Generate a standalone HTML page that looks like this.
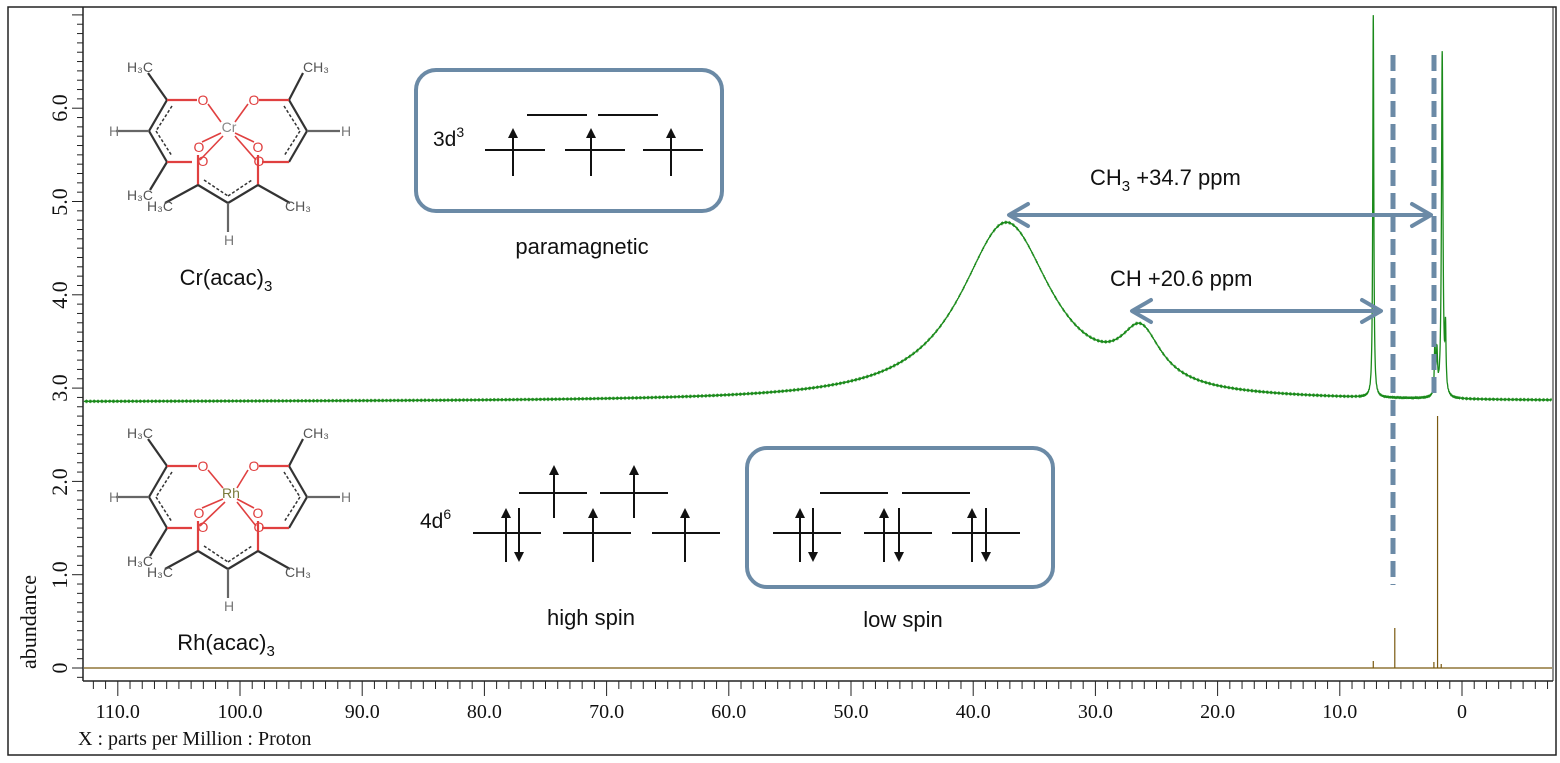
<!DOCTYPE html>
<html><head><meta charset="utf-8"><style>
html,body{margin:0;padding:0;background:#fff;}
svg{display:block;}
.s{font-family:"Liberation Sans",Arial,sans-serif;fill:#111;}
.t{font-family:"Liberation Serif","Times New Roman",serif;fill:#111;}
.mol{font-family:"Liberation Sans",Arial,sans-serif;font-size:14px;}
</style></head><body>
<svg id="c" width="1560" height="763" viewBox="0 0 1560 763" xmlns="http://www.w3.org/2000/svg">
<rect x="8" y="7" width="1548" height="748" fill="none" stroke="#222" stroke-width="1.5"/>
<line x1="83" y1="7" x2="83" y2="681" stroke="#222" stroke-width="1.5"/>
<line x1="83" y1="681" x2="1553" y2="681" stroke="#222" stroke-width="1.5"/>
<line x1="1553" y1="7" x2="1553" y2="681" stroke="#222" stroke-width="1"/>
<g id="ticks" stroke="#222" stroke-width="1"></g>
<g class="t" font-size="22">
<text transform="translate(67,668) rotate(-90)" text-anchor="middle">0</text>
<text transform="translate(67,575) rotate(-90)" text-anchor="middle">1.0</text>
<text transform="translate(67,482) rotate(-90)" text-anchor="middle">2.0</text>
<text transform="translate(67,388) rotate(-90)" text-anchor="middle">3.0</text>
<text transform="translate(67,295) rotate(-90)" text-anchor="middle">4.0</text>
<text transform="translate(67,202) rotate(-90)" text-anchor="middle">5.0</text>
<text transform="translate(67,108) rotate(-90)" text-anchor="middle">6.0</text>
<text transform="translate(36,622) rotate(-90)" text-anchor="middle" font-size="22">abundance</text>
</g>
<g class="t" font-size="20" text-anchor="middle" id="xl"></g>
<text class="t" x="78" y="745" font-size="20">X : parts per Million : Proton</text>

<path id="rh" fill="none" stroke="#7a5a10" stroke-width="1.2"/>
<path id="gr" fill="none" stroke="#1a8a1a" stroke-width="1.3"/>

<g stroke="#6b8aa6" stroke-width="5" stroke-dasharray="16,7">
<line x1="1393" y1="55" x2="1393" y2="585"/>
<line x1="1434" y1="55" x2="1434" y2="395"/>
</g>
<g stroke="#6b8aa6" stroke-width="4" fill="none" stroke-linecap="round" stroke-linejoin="round">
<line x1="1010" y1="215" x2="1430" y2="215"/>
<polyline points="1028,204 1009,215 1028,226"/>
<polyline points="1412,204 1431,215 1412,226"/>
<line x1="1133" y1="311" x2="1380" y2="311"/>
<polyline points="1151,300 1132,311 1151,322"/>
<polyline points="1362,300 1381,311 1362,322"/>
<rect x="416" y="70" width="306" height="141" rx="20"/>
<rect x="747" y="448" width="306" height="139" rx="20"/>
</g>
<text class="s" x="1090" y="185" font-size="22">CH<tspan font-size="15" dy="6">3</tspan><tspan dy="-6"> +34.7 ppm</tspan></text>
<text class="s" x="1110" y="286" font-size="22">CH  +20.6 ppm</text>
<text class="s" x="582" y="254" font-size="22" text-anchor="middle">paramagnetic</text>
<text class="s" x="591" y="625" font-size="22" text-anchor="middle">high spin</text>
<text class="s" x="903" y="627" font-size="22" text-anchor="middle">low spin</text>
<text class="s" x="433" y="146" font-size="21">3d<tspan font-size="14" dy="-9">3</tspan></text>
<text class="s" x="420" y="528" font-size="21">4d<tspan font-size="14" dy="-9">6</tspan></text>
<g id="lv" stroke="#111" stroke-width="2"></g>
<g id="mols"></g>
<text class="s" x="226" y="285" font-size="22" text-anchor="middle">Cr(acac)<tspan font-size="15" dy="6">3</tspan></text>
<text class="s" x="226" y="650" font-size="22" text-anchor="middle">Rh(acac)<tspan font-size="15" dy="6">3</tspan></text>
</svg>
<script>
var NS="http://www.w3.org/2000/svg";
function X(p){return 1462-12.22*p;}
function el(parent,tag,attrs,txt){var e=document.createElementNS(NS,tag);for(var k in attrs)e.setAttribute(k,attrs[k]);if(txt!==undefined)e.textContent=txt;parent.appendChild(e);return e;}
var tk=document.getElementById('ticks');
for(var p=-7;p<=112;p++){var x=X(p);if(x<84||x>1552)continue;var maj=(p%10===0);el(tk,'line',{x1:x,y1:681,x2:x,y2:maj?696:689});}
for(var i=-1;i<=70;i++){var v=i/10;var y=668-93.3*v;if(y<8||y>681)continue;var maj=(i%10===0);el(tk,'line',{x1:maj?72:77,y1:y,x2:83,y2:y});}
var xl=document.getElementById('xl');
for(var p=0;p<=110;p+=10){el(xl,'text',{x:X(p),y:718},p===0?'0':p.toFixed(1));}
function L(p,c,h,w){var d=(p-c)/w;return h/(1+d*d);}
var d='';
for(var x=84;x<=1552;x+=((x>1360&&x<1460)?0.1:0.5)){var p=(1462-x)/12.22;
var y=402-L(p,37.3,178,4.6)-L(p,26.3,52,2.0)-L(p,7.26,382,0.05)-L(p,1.62,344,0.07)-L(p,2.22,52,0.05)-L(p,2.05,40,0.06)-L(p,1.35,60,0.05)+Math.sin(x*7.1)*0.6;
d+=(d?'L':'M')+x.toFixed(2)+','+y.toFixed(1);}
document.getElementById('gr').setAttribute('d',d);
var r='M84,668L1552,668';
[[7.26,7],[5.5,40],[2.0,252],[2.3,6],[1.7,4]].forEach(function(a){var x=X(a[0]);r+='M'+x+',668L'+x+','+(668-a[1]);});
document.getElementById('rh').setAttribute('d',r);
var lv=document.getElementById('lv');
function ln(x1,x2,y){el(lv,'line',{x1:x1,y1:y,x2:x2,y2:y});}
function up(x,y1,y2){el(lv,'line',{x1:x,y1:y1,x2:x,y2:y2+8});el(lv,'polygon',{points:(x-5)+','+(y2+10)+' '+(x+5)+','+(y2+10)+' '+x+','+y2,fill:'#111',stroke:'none'});}
function dn(x,y1,y2){el(lv,'line',{x1:x,y1:y1,x2:x,y2:y2-8});el(lv,'polygon',{points:(x-5)+','+(y2-10)+' '+(x+5)+','+(y2-10)+' '+x+','+y2,fill:'#111',stroke:'none'});}
ln(485,545,150);ln(565,625,150);ln(643,703,150);ln(527,587,115);ln(598,658,115);
up(513,176,128);up(591,176,128);up(671,176,128);
ln(473,541,533);ln(563,631,533);ln(652,720,533);ln(519,587,493);ln(600,668,493);
up(506,562,508);dn(519,508,562);up(593,562,508);up(685,562,508);up(554,518,465);up(634,518,465);
ln(820,888,493);ln(902,970,493);ln(773,841,533);ln(864,932,533);ln(952,1020,533);
up(800,562,508);dn(813,508,562);up(884,562,508);dn(899,508,562);up(972,562,508);dn(986,508,562);
var mols=document.getElementById('mols');
function mol(dy,M){var g=el(mols,'g',{transform:'translate(0,'+dy+')'});
function b(x1,y1,x2,y2,c,w,da){var a={x1:x1,y1:y1,x2:x2,y2:y2,stroke:c||'#333','stroke-width':w||2.2};if(da)a['stroke-dasharray']=da;el(g,'line',a);}
function t(x,y,s,c,sz){el(g,'text',{x:x,y:y,'class':'mol',fill:c||'#555','font-size':sz||14,'text-anchor':'middle'},s);}
var red='#e04040';
b(148,73,167,100);b(167,100,149,131);b(149,131,167,162);b(149,131,116,131,'#666');b(167,162,150,190);
b(167,100,197,100,red);b(167,162,192,162,red);
b(172,106,156,131,'#333',1.5,'3,2');b(156,131,172,156,'#333',1.5,'3,2');
b(303,73,289,100);b(289,100,307,131);b(307,131,289,162);b(307,131,340,131,'#666');
b(259,100,289,100,red);b(262,162,289,162,red);
b(284,106,300,131,'#333',1.5,'3,2');b(300,131,284,156,'#333',1.5,'3,2');
b(198,155,198,185,red);b(258,155,258,185,red);b(198,185,228,203);b(228,203,258,185);b(228,203,228,232,'#666');
b(198,185,165,203);b(258,185,290,203);
b(204,180,228,196,'#333',1.5,'3,2');b(228,196,252,180,'#333',1.5,'3,2');
b(208,104,M[1]-6,122,red,1.6);b(248,104,M[1]+8,122,red,1.6);b(202,142,M[1]-6,133,red,1.6);b(254,142,M[1]+8,133,red,1.6);
b(200,160,M[1]-4,136,red,1.6);b(256,160,M[1]+8,136,red,1.6);
t(203,105,'O',red,15);t(254,105,'O',red,15);t(199,152,'O',red,15);t(258,152,'O',red,15);t(203,166,'O',red,15);t(259,166,'O',red,15);
t(M[1]+2,132,M[0],M[2],15);
t(114,136,'H','#777');t(346,136,'H','#777');t(229,245,'H','#777');
t(140,72,'H\u2083C');t(316,72,'CH\u2083');t(140,200,'H\u2083C');t(160,211,'H\u2083C');t(298,211,'CH\u2083');
}
mol(0,['Cr',227,'#888']);mol(366,['Rh',229,'#7a7a3a']);
</script>
</body></html>
